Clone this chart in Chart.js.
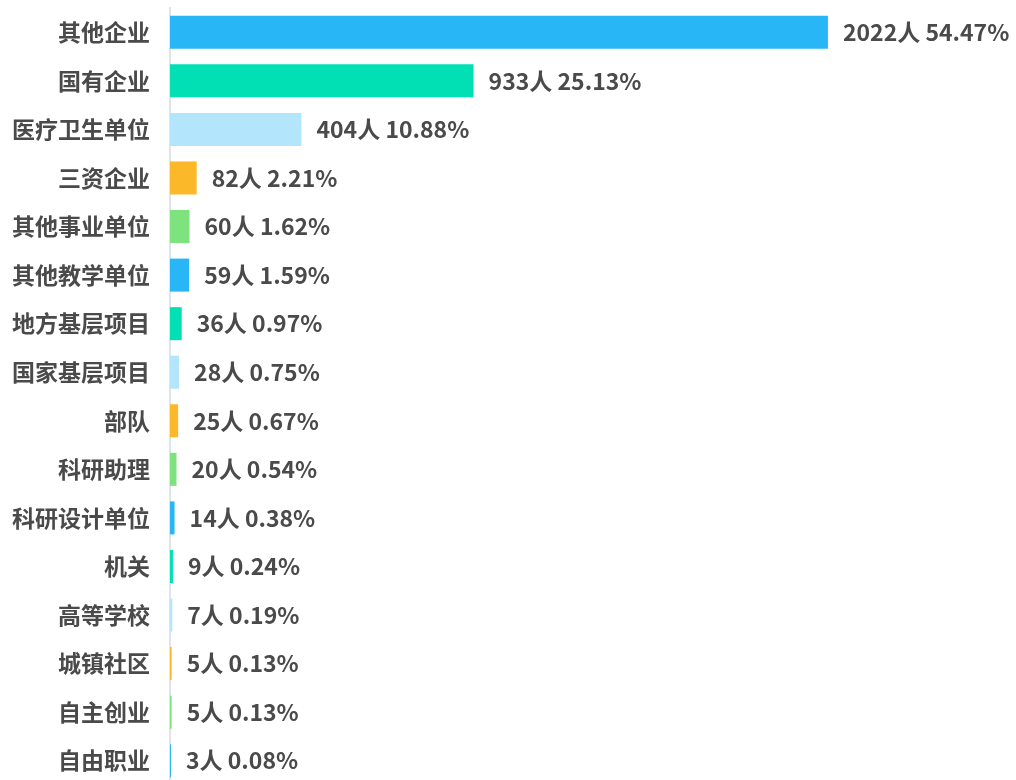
<!DOCTYPE html>
<html>
<head>
<meta charset="utf-8">
<script src="https://cdn.jsdelivr.net/npm/chart.js@4"></script>
<style>
  html, body { margin: 0; padding: 0; background: #fff; overflow: hidden; }
  #wrap { width: 1016px; height: 790px; position: relative; }
</style>
</head>
<body>
<div id="wrap"><canvas id="jobChart"></canvas></div>
<script>
// 就业单位类别
const categories = ['其他企业', '国有企业', '医疗卫生单位', '三资企业', '其他事业单位', '其他教学单位',
  '地方基层项目', '国家基层项目', '部队', '科研助理', '科研设计单位', '机关', '高等学校', '城镇社区', '自主创业', '自由职业'];
// 人数
const counts = [2022, 933, 404, 82, 60, 59, 36, 28, 25, 20, 14, 9, 7, 5, 5, 3];
// 百分比
const percents = ['54.47', '25.13', '10.88', '2.21', '1.62', '1.59', '0.97', '0.75', '0.67', '0.54', '0.38', '0.24', '0.19', '0.13', '0.13', '0.08'];

const palette = ['#29b6f6', '#00e0b4', '#b3e5fc', '#fbb829', '#7ee27e'];
const fontFamily = '"Noto Sans CJK SC", "Noto Sans", sans-serif';

// 柱子右侧的数值标签
const valueLabels = {
  id: 'valueLabels',
  afterDatasetsDraw(chart) {
    const ctx = chart.ctx;
    const meta = chart.getDatasetMeta(0);
    ctx.save();
    ctx.font = 'bold 23px ' + fontFamily;
    ctx.fillStyle = '#4a4a4a';
    ctx.textBaseline = 'middle';
    ctx.textAlign = 'left';
    meta.data.forEach((bar, i) => {
      ctx.fillText(counts[i] + '人 ' + percents[i] + '%', bar.x + 15, bar.y);
    });
    ctx.restore();
  }
};

new Chart(document.getElementById('jobChart'), {
  type: 'bar',
  data: {
    labels: categories,
    datasets: [{
      data: counts,
      backgroundColor: categories.map((c, i) => palette[i % palette.length]),
      categoryPercentage: 1,
      barPercentage: 0.68
    }]
  },
  options: {
    indexAxis: 'y',
    responsive: true,
    maintainAspectRatio: false,
    animation: false,
    layout: { padding: { top: 8, bottom: 5, left: 0, right: 0 } },
    plugins: { legend: { display: false }, tooltip: { enabled: false } },
    scales: {
      x: { display: false, min: 0, max: 2600 },
      y: {
        afterFit(scale) {
          scale.width = 170;
          // 不让标签高度撑开上下留白
          scale.paddingTop = 0;
          scale.paddingBottom = 0;
        },
        grid: { display: false, drawTicks: false },
        border: { display: true, color: '#dfe3ea', width: 2 },
        ticks: {
          padding: 20,
          color: '#4a4a4a',
          font: { family: fontFamily, size: 23, weight: 'bold' }
        }
      }
    }
  },
  plugins: [valueLabels]
});
</script>
</body>
</html>
